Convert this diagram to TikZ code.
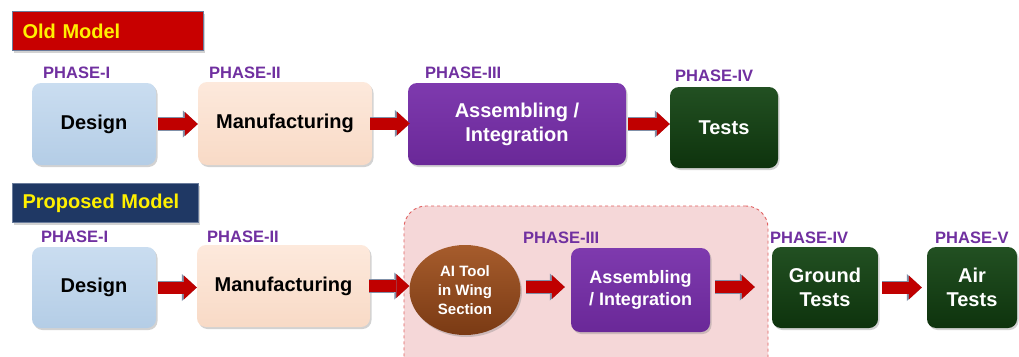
\documentclass[tikz,border=0pt]{standalone}
\usepackage{fontspec}
\setmainfont{Liberation Sans}
\usetikzlibrary{arrows.meta,shapes.geometric,shadows}
\definecolor{phasepurple}{HTML}{7030A0}
\definecolor{arrowred}{HTML}{C00000}
\definecolor{arrowedge}{HTML}{8090A8}
\definecolor{designtop}{HTML}{CADDF0}
\definecolor{designbot}{HTML}{B4CDE6}
\definecolor{manutop}{HTML}{FDE9DC}
\definecolor{manubot}{HTML}{F8DAC6}
\definecolor{purptop}{HTML}{7E3AAE}
\definecolor{purpbot}{HTML}{6A2898}
\definecolor{greentop}{HTML}{225022}
\definecolor{greenbot}{HTML}{0E330D}
\definecolor{browntop}{HTML}{A65C2C}
\definecolor{brownbot}{HTML}{7A3A14}
\definecolor{regionfill}{HTML}{F5D7D8}
\definecolor{regionline}{HTML}{E06060}
\definecolor{oldred}{HTML}{C80000}
\definecolor{navy}{HTML}{1F3864}
\definecolor{titleborder}{HTML}{6A7C9C}
\definecolor{titleyellow}{HTML}{FFF000}
\begin{document}
\begin{tikzpicture}[x=1pt,y=-1pt,
  shadowed/.style={drop shadow={shadow xshift=1.5pt,shadow yshift=-2pt,opacity=0.35}},
  box/.style={rectangle,rounded corners=9pt,inner sep=0pt,align=center,shadowed,
    font=\fontsize{20}{24}\selectfont\bfseries},
  designbox/.style={box,top color=designtop,bottom color=designbot,text=black},
  manubox/.style={box,top color=manutop,bottom color=manubot,text=black},
  purplebox/.style={box,top color=purptop,bottom color=purpbot,text=white},
  greenbox/.style={box,top color=greentop,bottom color=greenbot,text=white},
  aitool/.style={ellipse,inner sep=0pt,align=center,shadowed,top color=browntop,bottom color=brownbot,
    text=white,font=\fontsize{15}{19}\selectfont\bfseries},
  phase/.style={inner sep=0pt,anchor=base west,text=phasepurple,font=\fontsize{16.5}{18}\selectfont\bfseries},
  titlebox/.style={rectangle,anchor=north west,inner xsep=10pt,inner ysep=0pt,align=left,
    draw=titleborder,line width=1pt,shadowed,text=titleyellow,font=\fontsize{20}{24}\selectfont\bfseries},
  region/.style={rectangle,rounded corners=22pt,fill=regionfill,draw=regionline,dashed,line width=0.9pt},
  blockarrow/.style={
    preaction={draw=arrowedge,line width=13.6pt,-{Triangle[length=15pt,width=27pt,line width=0pt]}},
    draw=arrowred,line width=12pt,-{Triangle[length=13pt,width=24pt,line width=0pt]}}
]
\clip (0,0) rectangle (1019,356);
\fill[white] (0,0) rectangle (1019,356);

% ---------- Old model ----------
\node[titlebox,fill=oldred,minimum width=191pt,minimum height=39pt,text width=171pt] (oldtitle) at (12,11) {Old Model};

\node[phase] (op1) at (43,78) {PHASE-I};
\node[phase] (op2) at (209,78) {PHASE-II};
\node[phase] (op3) at (425,78) {PHASE-III};
\node[phase] (op4) at (675,81) {PHASE-IV};

\node[designbox,minimum width=124pt,minimum height=82pt] (od) at (94,124) {Design};
\node[manubox,minimum width=174pt,minimum height=83pt] (om) at (285,123.5) {Manufacturing};
\node[purplebox,minimum width=218pt,minimum height=82pt] (oa) at (517,124) {Assembling /\\Integration};
\node[greenbox,minimum width=108pt,minimum height=81pt] (ot) at (724,127.5) {Tests};

\draw[blockarrow,shorten <=2pt] (od.east) -- (od.east -| om.west);
\draw[blockarrow,shorten <=-2pt,shorten >=-2pt] (om.east) -- (om.east -| oa.west);
\draw[blockarrow,shorten <=2pt] (oa.east) -- (oa.east -| ot.west);

% ---------- Proposed model ----------
\node[titlebox,fill=navy,minimum width=186pt,minimum height=39pt,text width=166pt] (newtitle) at (12,183) {Proposed Model};

\node[region,minimum width=364pt,minimum height=178pt] (grp) at (586,295) {};

\node[phase] (np1) at (41,242) {PHASE-I};
\node[phase] (np2) at (207,242) {PHASE-II};
\node[phase] (np3) at (523,243) {PHASE-III};
\node[phase] (np4) at (770,243) {PHASE-IV};
\node[phase] (np5) at (935,243) {PHASE-V};

\node[designbox,minimum width=124pt,minimum height=81pt] (nd) at (94,287.5) {Design};
\node[manubox,minimum width=173pt,minimum height=82pt] (nm) at (283.5,286) {Manufacturing};
\node[aitool,minimum width=111pt,minimum height=90pt] (ai) at (465,290) {AI Tool\\in Wing\\Section};
\node[purplebox,minimum width=139pt,minimum height=84pt,font=\fontsize{18}{22}\selectfont\bfseries] (na) at (640.5,290) {Assembling\\/ Integration};
\node[greenbox,minimum width=106pt,minimum height=81pt] (ng) at (825,287.5) {Ground\\Tests};
\node[greenbox,minimum width=90pt,minimum height=81pt] (nair) at (972,287.5) {Air\\Tests};

\draw[blockarrow,shorten <=2pt] (nd.east) -- (nd.east -| nm.west);
\draw[blockarrow,shorten <=-1pt] (nm.east) -- (nm.east -| ai.west);
\draw[blockarrow,shorten <=5pt,shorten >=6pt] ([yshift=3pt]ai.east) -- ([yshift=3pt]ai.east -| na.west);
\draw[blockarrow,shorten <=5pt,shorten >=17pt] ([yshift=3pt]na.east) -- ([yshift=3pt]na.east -| ng.west);
\draw[blockarrow,shorten <=4pt,shorten >=5pt] (ng.east) -- (ng.east -| nair.west);
\end{tikzpicture}
\end{document}
